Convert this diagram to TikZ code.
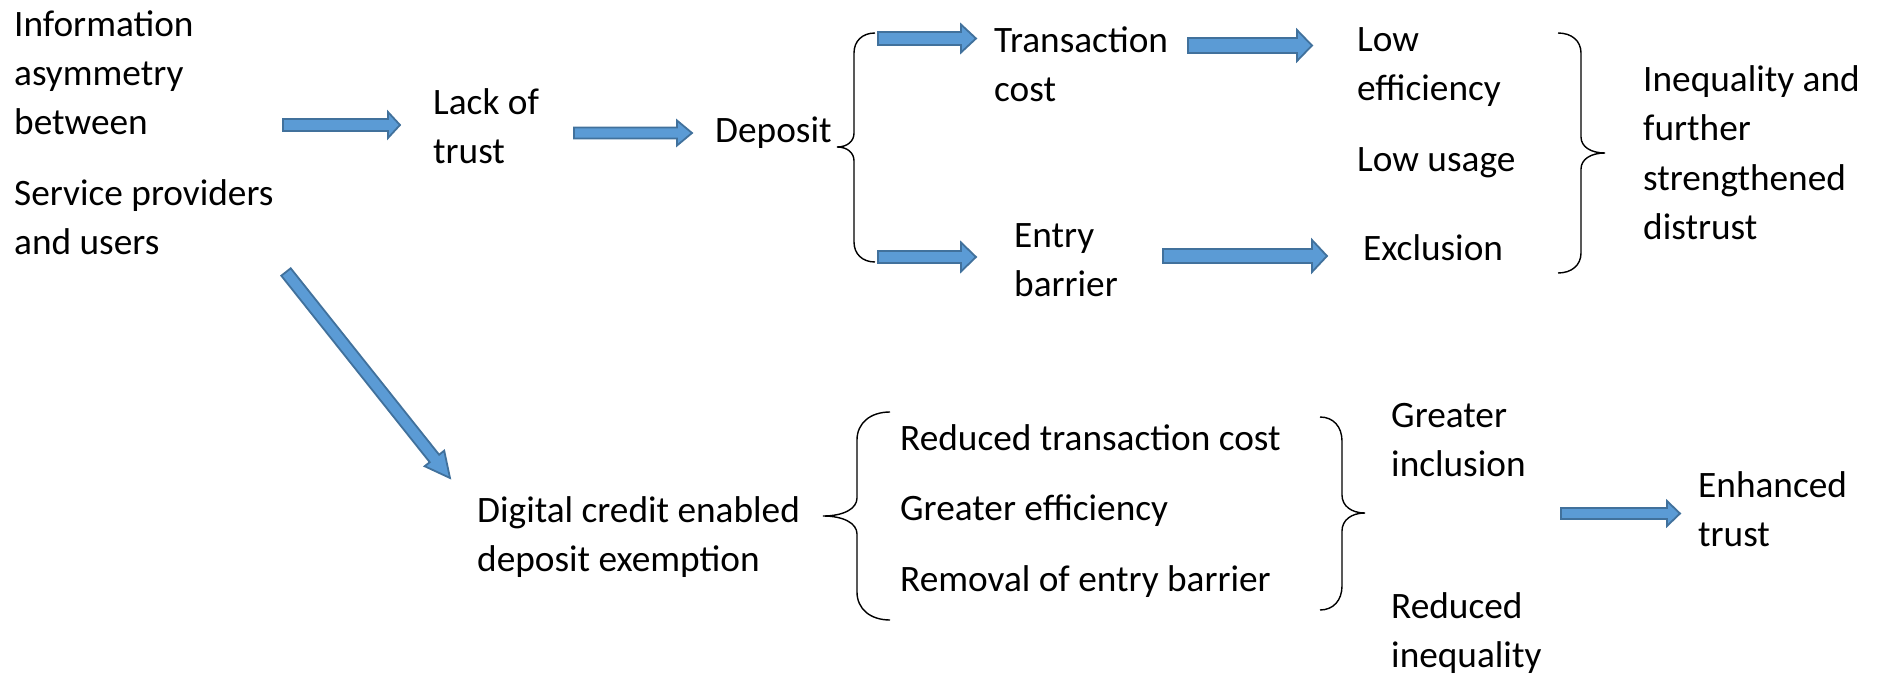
\documentclass[tikz,border=0pt]{standalone}
\usepackage{fontspec}
\setmainfont{Carlito}
\usetikzlibrary{calc}
\definecolor{arrowfill}{HTML}{5B9BD5}
\definecolor{arrowline}{HTML}{41719C}
\tikzset{
  % nodes are placed by the baseline of their last line
  lbl/.style={anchor=base west, inner sep=0pt, align=left,
    font=\fontsize{37.3bp}{49bp}\selectfont},
  fatarrow/.style={fill=arrowfill, draw=arrowline, line width=1.8bp, line join=miter},
  bracket/.style={draw=black, line width=1.4bp},
}
% block arrow: from, to, body half-width, head half-width, head length
\newcommand\blockarrow[5]{%
  \coordinate (bk) at ($(#2)!#5!(#1)$);
  \draw[fatarrow] ($(#1)!#3!90:(#2)$) -- ($(bk)!#3!90:(#2)$) -- ($(bk)!#4!90:(#2)$)
    -- (#2) -- ($(bk)!#4!-90:(#2)$) -- ($(bk)!#3!-90:(#2)$) -- ($(#1)!#3!-90:(#2)$) -- cycle;
}
% curly brace: top end, bottom end (same x), spine x, tip x, tip y, end radius, tip radius
\newcommand\curly[7]{%
  \draw[bracket] (#1) .. controls ($(#1)!0.6!(#3,0|-#1)$) and ($(#3,0|-#1)+(0,#6*0.4)$) .. ($(#3,0|-#1)+(0,#6)$)
    -- ($(#3,#5)+(0,-#7)$) .. controls ($(#3,#5)+(0,-#7*0.4)$) and ($(#3,#5)!0.4!(#4,#5)$) .. (#4,#5)
    .. controls ($(#3,#5)!0.4!(#4,#5)$) and ($(#3,#5)+(0,#7*0.4)$) .. ($(#3,#5)+(0,#7)$)
    -- ($(#3,0|-#2)+(0,-#6)$) .. controls ($(#3,0|-#2)+(0,-#6*0.4)$) and ($(#2)!0.6!(#3,0|-#2)$) .. (#2);
}
\begin{document}
\begin{tikzpicture}[x=1bp,y=-1bp]
\useasboundingbox (0,0) rectangle (1879,674);

% texts
\node[lbl] (info) at (14,254) {Information\\asymmetry\\between\\[21bp]Service providers\\and users};
\node[lbl] (lack) at (433,164) {Lack of\\trust};
\node[lbl] (deposit) at (715,143) {Deposit};
\node[lbl] (tcost) at (994,102) {Transaction\\cost};
\node[lbl] (loweff) at (1357,101) {Low\\efficiency};
\node[lbl] (lowuse) at (1357,172) {Low usage};
\node[lbl] (entry) at (1014,296) {Entry\\barrier};
\node[lbl] (excl) at (1363,260) {Exclusion};
\node[lbl] (ineq) at (1643,239) {Inequality and\\further\\strengthened\\distrust};
\node[lbl] (digital) at (477,571) {Digital credit enabled\\deposit exemption};
\node[lbl] (redcost) at (900,450) {Reduced transaction cost};
\node[lbl] (greff) at (900,520) {Greater efficiency};
\node[lbl] (remove) at (900,591) {Removal of entry barrier};
\node[lbl] (incl) at (1391,476) {Greater\\inclusion};
\node[lbl] (redineq) at (1391,667) {Reduced\\inequality};
\node[lbl] (enh) at (1698,546) {Enhanced\\trust};

% arrow ends
\coordinate (infoOut) at (283,125);   \coordinate (lackIn) at (400,125);
\coordinate (lackOut) at (574,133);   \coordinate (depIn) at (692,133);
\coordinate (costIn0) at (878,38.5);  \coordinate (costIn) at (976,38.5);
\coordinate (costOut) at (1188,45.5); \coordinate (effIn) at (1312,45.5);
\coordinate (barIn0) at (878,257);    \coordinate (barIn) at (976,257);
\coordinate (barOut) at (1163,256);   \coordinate (exclIn) at (1327,256);
\coordinate (diagOut) at (286,272);   \coordinate (digIn) at (450,478);
\coordinate (inclOut) at (1561,513.5); \coordinate (enhIn) at (1680,513.5);

\blockarrow{infoOut}{lackIn}{6bp}{13bp}{12bp}
\blockarrow{lackOut}{depIn}{5.5bp}{12.5bp}{15bp}
\blockarrow{costIn0}{costIn}{6.5bp}{14bp}{15bp}
\blockarrow{costOut}{effIn}{7.5bp}{15.5bp}{15bp}
\blockarrow{barIn0}{barIn}{6bp}{14.5bp}{15bp}
\blockarrow{barOut}{exclIn}{7bp}{16bp}{15bp}
\blockarrow{diagOut}{digIn}{6bp}{12.5bp}{25bp}
\blockarrow{inclOut}{enhIn}{5.5bp}{12.5bp}{13bp}

% braces
\curly{875,33}{875,262}{854}{837}{147}{20}{14}
\curly{1558,33}{1558,273}{1581}{1605}{153}{20}{16}
\curly{890,412}{890,620}{857}{823}{516}{28}{18}
\curly{1320,417}{1320,610}{1342}{1365}{513}{24}{18}
\end{tikzpicture}
\end{document}
